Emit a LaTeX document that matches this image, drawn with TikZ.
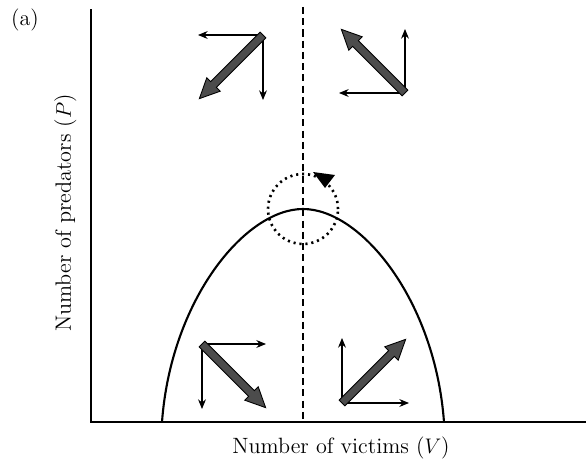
\documentclass[tikz,border=0pt]{standalone}
\usetikzlibrary{arrows.meta}
\tikzset{
  thin arr/.style={-{Stealth[length=5.5pt,width=4.5pt]},line width=.6pt},
  fat arr/.pic={
    \path[fill=black!70,draw=black,line width=.5pt]
      (0,-4) -- (70,-4) -- (70,-9.5) -- (90,0) -- (70,9.5) -- (70,4) -- (0,4) -- cycle;
  }
}
\begin{document}
\begin{tikzpicture}[x=0.02cm,y=-0.02cm,font=\fontsize{12.6}{15}\selectfont]
\useasboundingbox (0,0) rectangle (586,463);
\draw[line width=.7pt] (91,9) -- (91,422) -- (586,422);
\node[anchor=base] (lbla) at (25,26) {(a)};
\node[anchor=base] (xlab) at (341,453) {Number of victims ($V$)};
\node[anchor=base,rotate=90] (ylab) at (71,213) {Number of predators ($P$)};
\draw[line width=1.1pt,dash pattern=on 4pt off 2.4pt] (303,7) -- (303,422);
\draw[line width=1.2pt] (162,422) .. controls (171,300) and (245,209) .. (303,209)
  .. controls (361,209) and (435,300) .. (444,422);
\draw[line width=1.5pt,dash pattern=on 1.2pt off 2.2pt] (303,209) circle[radius=0.7cm];
\fill (313,172) -- (335,175) -- (325,188) -- cycle;
\coordinate (tl) at (263,35);
\coordinate (tr) at (405,93);
\coordinate (bl) at (202,344);
\coordinate (br) at (342,403);
\draw[thin arr] (tl) -- ++(-65,0);
\draw[thin arr] (tl) -- ++(0,65);
\pic[rotate=225] at (tl) {fat arr};
\draw[thin arr] (tr) -- ++(0,-64);
\draw[thin arr] (tr) -- ++(-66,0);
\pic[rotate=135] at (tr) {fat arr};
\draw[thin arr] (bl) -- ++(64,0);
\draw[thin arr] (bl) -- ++(0,65);
\pic[rotate=-45] at (bl) {fat arr};
\draw[thin arr] (br) -- ++(0,-65);
\draw[thin arr] (br) -- ++(67,0);
\pic[rotate=45] at (br) {fat arr};
\end{tikzpicture}
\end{document}
